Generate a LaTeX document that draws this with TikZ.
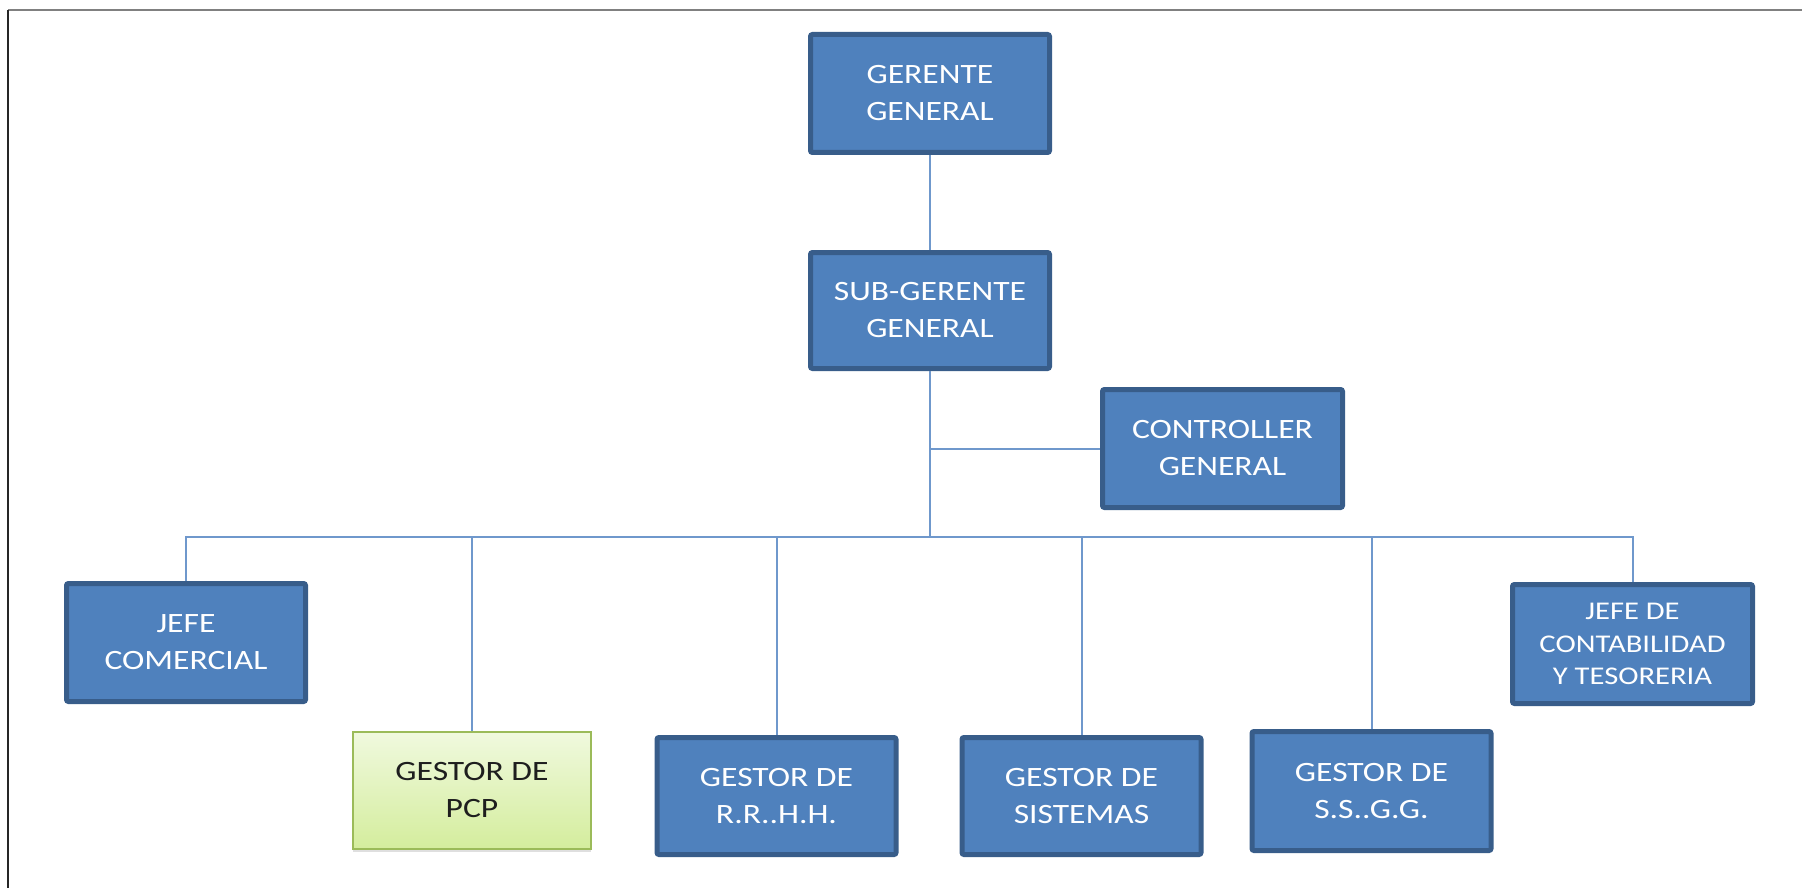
\documentclass[tikz,border=0pt]{standalone}
\usepackage{fontspec}
\setmainfont{Carlito}[FakeStretch=1.2]
\usetikzlibrary{shadows}
\definecolor{boxblue}{RGB}{79,129,189}
\definecolor{boxedge}{RGB}{56,93,138}
\definecolor{linkblue}{RGB}{111,152,204}
\definecolor{greentop}{RGB}{240,249,222}
\definecolor{greenbot}{RGB}{212,237,157}
\definecolor{greenedge}{RGB}{155,187,89}
\tikzset{
  post/.style={rectangle, rounded corners=2pt, fill=boxblue, draw=boxedge,
    line width=5pt, text=white, align=center,
    minimum width=#1, minimum height=118pt, inner sep=0pt,
    font=\fontsize{28}{37}\selectfont},
  post/.default=239pt,
  greenpost/.style={rectangle, top color=greentop, bottom color=greenbot,
    draw=greenedge, line width=1.5pt, text={rgb,255:red,30;green,30;blue,30},
    align=center, minimum width=238pt, minimum height=117pt, inner sep=0pt,
    font=\fontsize{28}{37}\selectfont,
    drop shadow={opacity=0.25, shadow xshift=0pt, shadow yshift=-3pt}},
  link/.style={draw=linkblue, line width=2pt},
  frameline/.style={line width=2.5pt}
}
\begin{document}
\begin{tikzpicture}[x=1pt, y=-1pt]
  \useasboundingbox (0,0) rectangle (1802,888);
  % page frame (top and left edges)
  \draw[frameline, draw=gray] (8,10) -- (1802,10);
  \draw[frameline, draw=black!85] (8,10) -- (8,888);

  % positions
  \node[post] (gg) at (930,93.5) {GERENTE\\GENERAL};
  \node[post, minimum height=116pt] (sg) at (930,310.5) {SUB-GERENTE\\GENERAL};
  \node[post=240pt] (ctrl) at (1222.5,448.5) {CONTROLLER\\GENERAL};
  \node[post] (jc) at (186,642.5) {JEFE\\COMERCIAL};
  \node[greenpost] (pcp) at (472,790.5) {GESTOR DE\\PCP};
  \node[post, minimum height=117pt] (rrhh) at (776.5,796) {GESTOR DE\\R.R..H.H.};
  \node[post, minimum height=117pt] (sis) at (1081.5,796) {GESTOR DE\\SISTEMAS};
  \node[post, minimum height=119pt] (ssgg) at (1371.5,791) {GESTOR DE\\S.S..G.G.};
  \node[post=240pt, minimum height=119pt, font=\fontsize{25.5}{32.5}\selectfont]
    (cont) at (1632.5,644) {JEFE DE\\CONTABILIDAD\\Y TESORERIA};

  \coordinate (bus) at (930,537);

  % connectors
  \draw[link] (gg.south) -- (sg.north);
  \draw[link] (sg.south) -- (bus);
  \draw[link] (ctrl.west) -- (ctrl.west -| sg.south);
  \draw[link] (jc.north) |- (bus);
  \draw[link] (cont.north) |- (bus);
  \draw[link] (pcp.north) -- (pcp.north |- bus);
  \draw[link] (rrhh.north) -- (rrhh.north |- bus);
  \draw[link] (sis.north) -- (sis.north |- bus);
  \draw[link] (ssgg.north) -- (ssgg.north |- bus);
\end{tikzpicture}
\end{document}
